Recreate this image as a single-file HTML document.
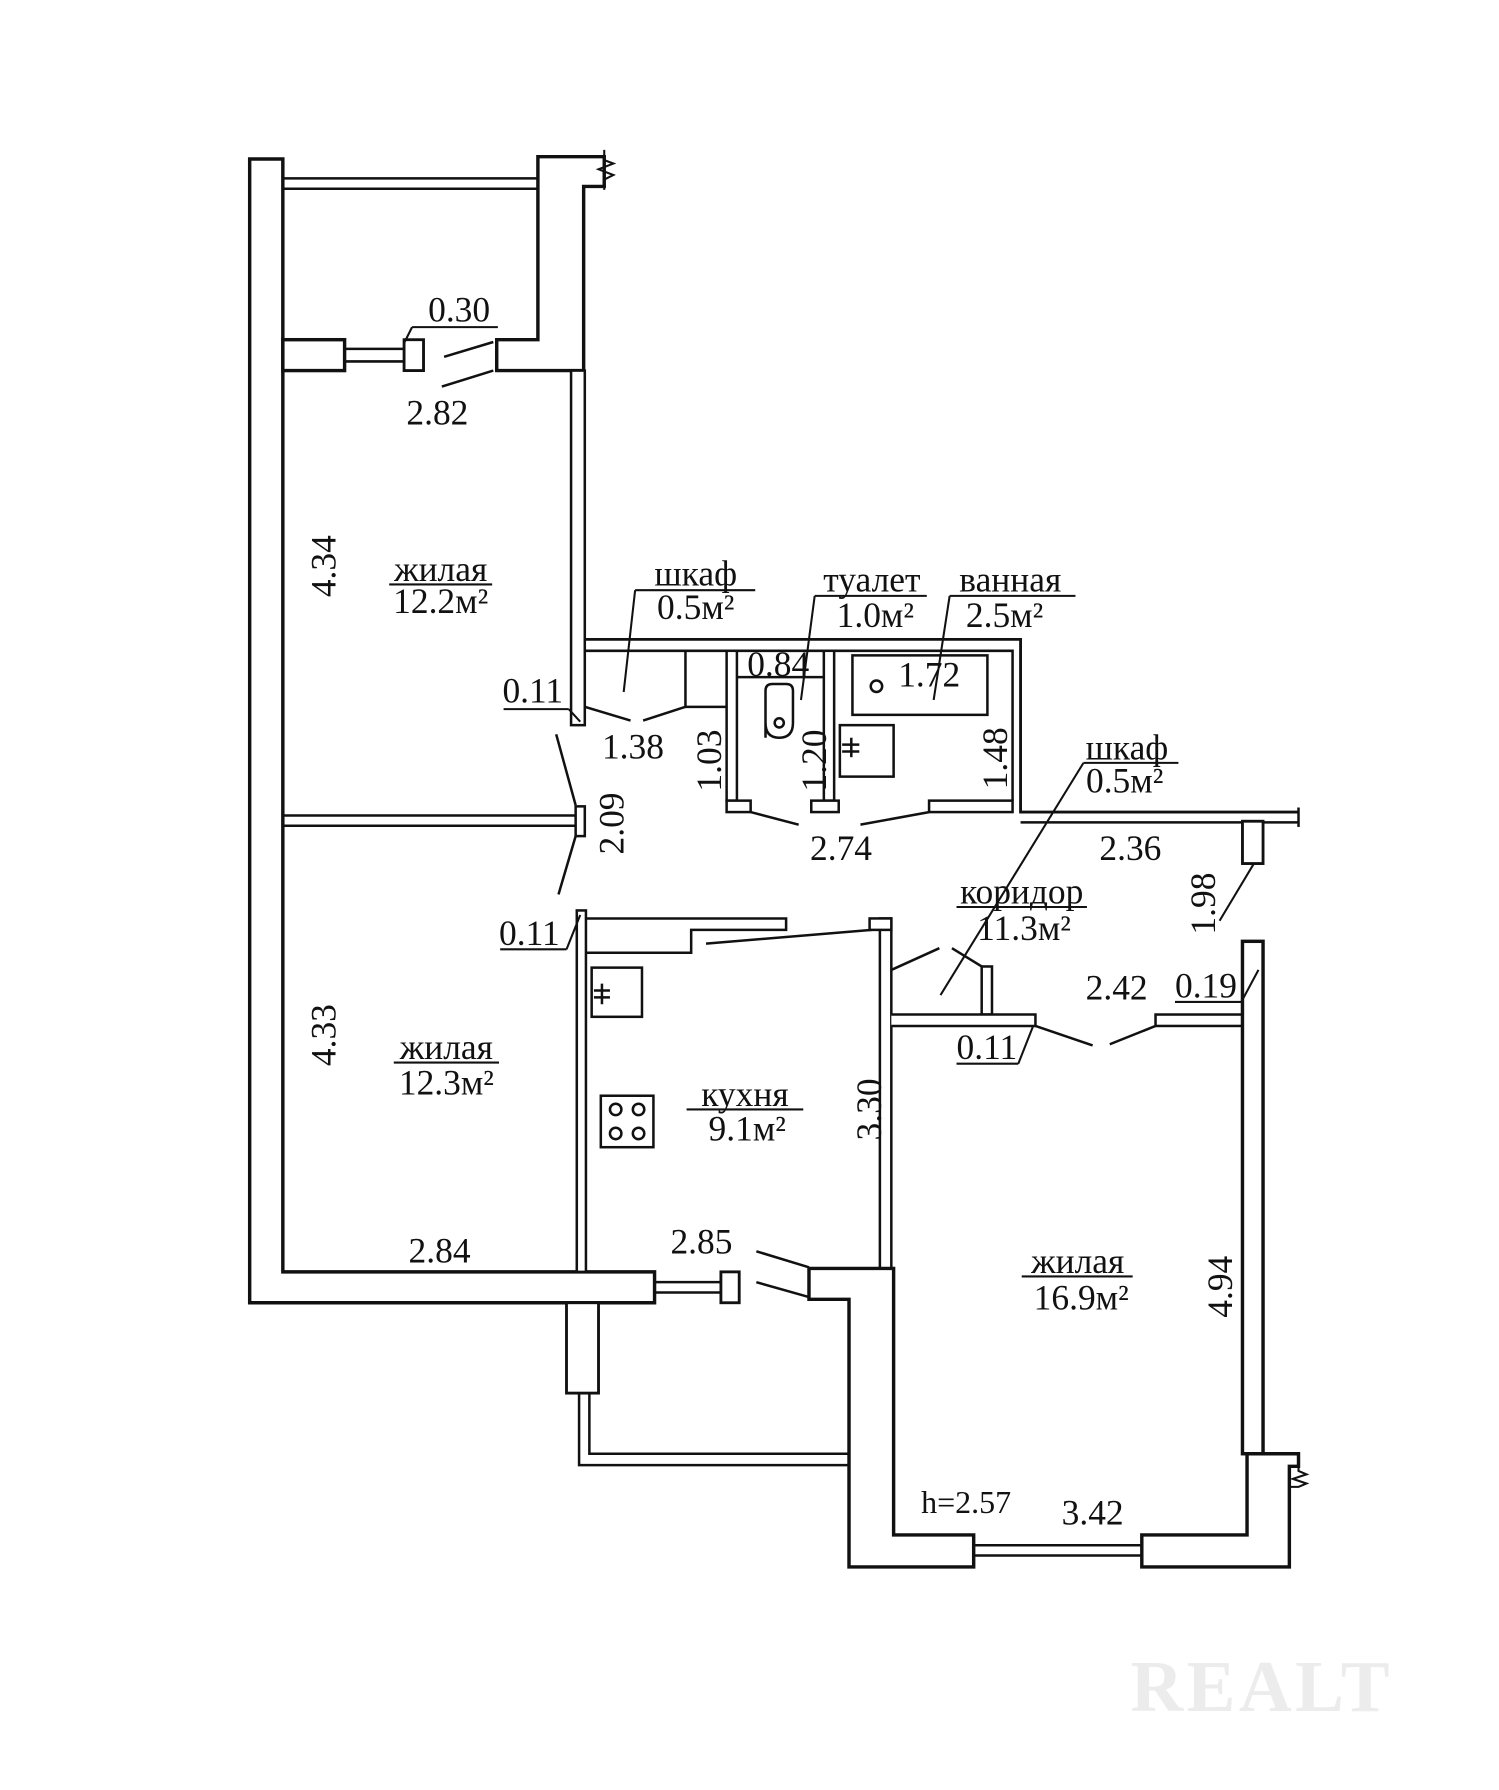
<!DOCTYPE html>
<html><head><meta charset="utf-8"><style>
html,body{margin:0;padding:0;background:#fff;}
svg{display:block;}
text{font-family:"Liberation Serif","DejaVu Serif",serif;fill:#111;}
</style></head><body>
<svg width="1499" height="1790" viewBox="0 0 1310 1565" xmlns="http://www.w3.org/2000/svg">
<rect width="1310" height="1565" fill="#fff"/>
<g fill="#fff" stroke="#111" stroke-width="2.2" stroke-linejoin="miter">
<polygon points="218,139 247,139 247,1112 572,1112 572,1139 218,1139" stroke-width="3"/>
<line x1="247" y1="156" x2="470" y2="156"/><line x1="247" y1="165" x2="470" y2="165"/>
<polygon points="470,137 528,137 528,163 510,163 510,324 434,324 434,297 470,297" stroke-width="3"/>
<path d="M528,131 L528,140 L536,143 L523,148 L536,153 L528,157 L528,166" fill="none" stroke-width="1.8"/>
<rect x="247" y="297" width="54" height="27" stroke-width="3"/>
<line x1="301" y1="305" x2="353" y2="305"/><line x1="301" y1="316" x2="353" y2="316"/>
<rect x="353" y="297" width="17" height="27" stroke-width="2.5"/>
<line x1="388" y1="312" x2="431" y2="299"/><line x1="386" y1="338" x2="431" y2="324"/>
<rect x="499" y="324" width="12" height="310"/>
<path d="M511,559 L892,559 L892,710 L1135,710" fill="none" stroke-width="2.5"/>
<path d="M511,569 L885,569 L885,700" fill="none"/>
<line x1="892" y1="719" x2="1135" y2="719"/>
<line x1="1135" y1="706" x2="1135" y2="723"/>
<rect x="635" y="569" width="9" height="131"/>
<rect x="635" y="700" width="21" height="10"/>
<rect x="720" y="569" width="9" height="131"/>
<rect x="709" y="700" width="24" height="10"/>
<rect x="812" y="700" width="73" height="10"/>
<line x1="644" y1="592" x2="720" y2="592"/>
<path d="M669,645 L669,604 Q669,598 675,598 L687,598 Q693,598 693,604 L693,632 Q693,645 681,645 Q669,645 669,632 Z" />
<circle cx="681" cy="632" r="4"/>
<rect x="745" y="573" width="118" height="52"/>
<circle cx="766" cy="600" r="5"/>
<rect x="734" y="634" width="47" height="45"/>
<line x1="736" y1="651" x2="751" y2="651"/><line x1="736" y1="657" x2="751" y2="657"/><line x1="744" y1="645" x2="744" y2="662"/>
<path d="M599,569 L599,618 L635,618" fill="none"/>
<line x1="511" y1="618" x2="551" y2="630"/><line x1="562" y1="630" x2="599" y2="618"/>
<line x1="656" y1="710" x2="698" y2="721"/><line x1="752" y1="721" x2="812" y2="710"/>
<line x1="486" y1="642" x2="503" y2="704"/><line x1="503" y1="731" x2="488" y2="782"/>
<rect x="503" y="705" width="8" height="26"/>
<line x1="247" y1="713" x2="503" y2="713"/><line x1="247" y1="722" x2="503" y2="722"/>
<rect x="504" y="796" width="8" height="316"/>
<path d="M512,803 L687,803 L687,813 L604,813 L604,833 L512,833" fill="none"/>
<line x1="617" y1="825" x2="762" y2="813"/>
<rect x="769" y="803" width="10" height="306"/>
<rect x="760" y="803" width="19" height="10"/>
<rect x="517" y="846" width="44" height="43"/>
<line x1="519" y1="866" x2="533" y2="866"/><line x1="519" y1="872" x2="533" y2="872"/><line x1="526" y1="860" x2="526" y2="878"/>
<rect x="525" y="958" width="46" height="45"/>
<circle cx="538" cy="970" r="5"/><circle cx="558" cy="970" r="5"/><circle cx="538" cy="991" r="5"/><circle cx="558" cy="991" r="5"/>
<line x1="779" y1="848" x2="821" y2="829"/><line x1="832" y1="829" x2="858" y2="845"/>
<rect x="858" y="845" width="9" height="42"/>
<path d="M779,887 L905,887 L905,897 L779,897" />
<line x1="905" y1="897" x2="955" y2="914"/><line x1="970" y1="913" x2="1010" y2="897"/>
<rect x="1010" y="887" width="76" height="10"/>
<rect x="1086" y="823" width="18" height="448" stroke-width="3"/>
<rect x="1086" y="718" width="18" height="37" stroke-width="2.5"/>
<polygon points="707,1109 781,1109 781,1342 851,1342 851,1370 742,1370 742,1136 707,1136" stroke-width="3"/>
<polygon points="998,1342 1090,1342 1090,1271 1135,1271 1135,1282 1127,1282 1127,1370 998,1370" stroke-width="3"/>
<path d="M1135,1282 L1135,1286 L1142,1289 L1130,1293 L1142,1297 L1135,1300 L1127,1300" fill="none" stroke-width="1.8"/>
<line x1="851" y1="1351" x2="998" y2="1351"/><line x1="851" y1="1360" x2="998" y2="1360"/>
<line x1="661" y1="1094" x2="707" y2="1108"/><line x1="661" y1="1121" x2="707" y2="1134"/>
<line x1="572" y1="1121" x2="630" y2="1121"/><line x1="572" y1="1130" x2="630" y2="1130"/>
<rect x="630" y="1112" width="16" height="27" stroke-width="2.5"/>
<rect x="495" y="1139" width="28" height="79" stroke-width="2.5"/>
<path d="M506,1218 L506,1281 L742,1281" fill="none"/>
<path d="M515,1218 L515,1271 L742,1271" fill="none"/>
<g fill="none" stroke-width="1.8">
<line x1="360" y1="286" x2="435" y2="286"/><line x1="360" y1="286" x2="353" y2="300"/>
<line x1="555" y1="516" x2="660" y2="516"/><line x1="555" y1="516" x2="545" y2="605"/>
<line x1="712" y1="521" x2="810" y2="521"/><line x1="712" y1="521" x2="700" y2="612"/>
<line x1="830" y1="521" x2="940" y2="521"/><line x1="830" y1="521" x2="816" y2="612"/>
<line x1="440" y1="620" x2="497" y2="620"/><line x1="497" y1="620" x2="507" y2="631"/>
<line x1="947" y1="667" x2="1030" y2="667"/><line x1="947" y1="667" x2="822" y2="870"/>
<line x1="437" y1="830" x2="495" y2="830"/><line x1="495" y1="830" x2="507" y2="800"/>
<line x1="1066" y1="805" x2="1096" y2="755"/>
<line x1="1027" y1="876" x2="1085" y2="876"/><line x1="1085" y1="876" x2="1100" y2="848"/>
<line x1="836" y1="930" x2="890" y2="930"/><line x1="890" y1="930" x2="903" y2="897"/>
<line x1="340" y1="511" x2="430" y2="511"/>
<line x1="344" y1="929" x2="436" y2="929"/>
<line x1="600" y1="970" x2="702" y2="970"/>
<line x1="836" y1="793" x2="950" y2="793"/>
<line x1="893" y1="1116" x2="990" y2="1116"/>
</g>
</g>
<g font-size="31">
<text x="374" y="281">0.30</text>
<text x="355" y="371">2.82</text>
<text transform="translate(293,495) rotate(-90)" text-anchor="middle">4.34</text>
<text x="385" y="508" text-anchor="middle">жилая</text>
<text x="385" y="536" text-anchor="middle">12.2м²</text>
<text x="608" y="512" text-anchor="middle">шкаф</text>
<text x="608" y="541" text-anchor="middle">0.5м²</text>
<text x="762" y="517" text-anchor="middle">туалет</text>
<text x="765" y="548" text-anchor="middle">1.0м²</text>
<text x="883" y="517" text-anchor="middle">ванная</text>
<text x="878" y="548" text-anchor="middle">2.5м²</text>
<text x="653" y="591">0.84</text>
<text x="785" y="600">1.72</text>
<text x="439" y="614">0.11</text>
<text x="526" y="663">1.38</text>
<text transform="translate(630,665) rotate(-90)" text-anchor="middle">1.03</text>
<text transform="translate(722,665) rotate(-90)" text-anchor="middle">1.20</text>
<text transform="translate(880,663) rotate(-90)" text-anchor="middle">1.48</text>
<text x="985" y="664" text-anchor="middle">шкаф</text>
<text x="983" y="693" text-anchor="middle">0.5м²</text>
<text transform="translate(545,720) rotate(-90)" text-anchor="middle">2.09</text>
<text x="735" y="752" text-anchor="middle">2.74</text>
<text x="988" y="752" text-anchor="middle">2.36</text>
<text x="893" y="790" text-anchor="middle">коридор</text>
<text x="895" y="822" text-anchor="middle">11.3м²</text>
<text transform="translate(1062,790) rotate(-90)" text-anchor="middle">1.98</text>
<text x="436" y="826">0.11</text>
<text x="976" y="874" text-anchor="middle">2.42</text>
<text x="1027" y="872">0.19</text>
<text x="836" y="926">0.11</text>
<text transform="translate(293,905) rotate(-90)" text-anchor="middle">4.33</text>
<text x="390" y="926" text-anchor="middle">жилая</text>
<text x="390" y="957" text-anchor="middle">12.3м²</text>
<text x="651" y="967" text-anchor="middle">кухня</text>
<text x="653" y="997" text-anchor="middle">9.1м²</text>
<text transform="translate(770,970) rotate(-90)" text-anchor="middle">3.30</text>
<text x="384" y="1104" text-anchor="middle">2.84</text>
<text x="613" y="1096" text-anchor="middle">2.85</text>
<text transform="translate(1077,1125) rotate(-90)" text-anchor="middle">4.94</text>
<text x="942" y="1113" text-anchor="middle">жилая</text>
<text x="945" y="1145" text-anchor="middle">16.9м²</text>
<text x="805" y="1323" font-family="Liberation Sans, sans-serif" font-size="28">h=2.57</text>
<text x="955" y="1333" text-anchor="middle">3.42</text>
</g>
<text x="988" y="1496" font-family="Liberation Sans, sans-serif" font-size="64" font-weight="bold" style="fill:#ececec" letter-spacing="3">REALT</text>
</svg>
</body></html>
